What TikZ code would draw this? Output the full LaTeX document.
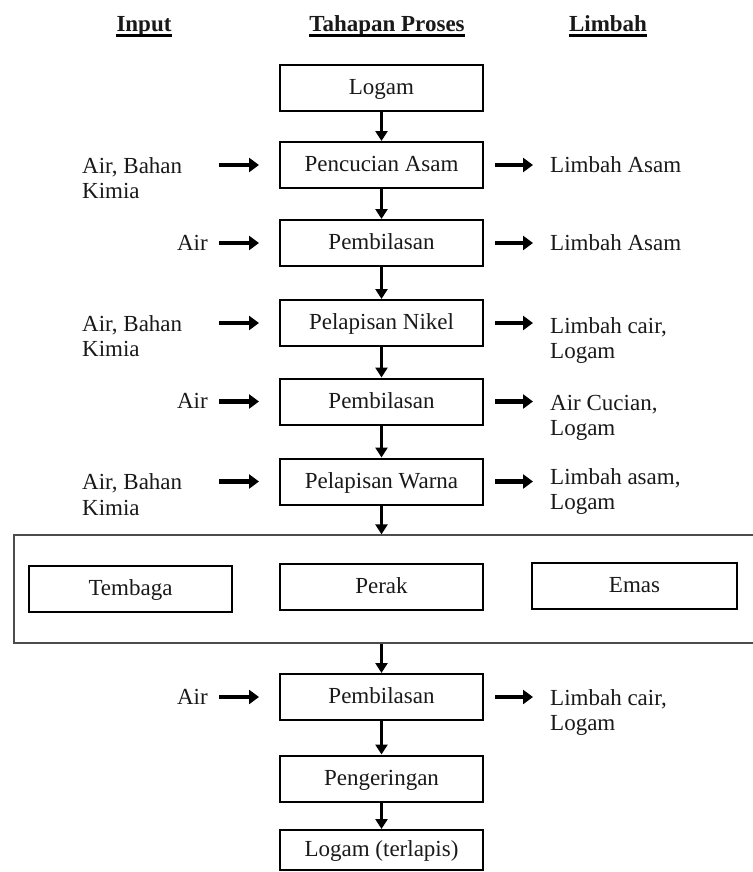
\documentclass[tikz,border=0pt]{standalone}
\usepackage{fontspec}
\setmainfont{Liberation Serif}
\usetikzlibrary{arrows.meta}
\begin{document}
\begin{tikzpicture}[x=1pt,y=-1pt,
 every node/.style={font=\fontsize{23}{25.5}\selectfont, inner sep=0pt, text=black!90},
 box/.style={draw=black, line width=2pt, minimum width=203pt, minimum height=46pt, text height=17.5pt, text depth=4.5pt},
 outerbox/.style={draw=black!70, line width=1.3pt},
 varrow/.style={line width=3pt, -{Triangle[length=10pt,width=12pt]}},
 harrow/.style={line width=4.5pt, -{Triangle[length=10pt,width=14pt]}},
 hdr/.style={font=\fontsize{23}{26}\selectfont\bfseries, anchor=base},
 lbl/.style={align=left, anchor=base west},
 lblr/.style={anchor=base east},
]
\useasboundingbox (0,0) rectangle (752,872);

% headers
\node[hdr] (hin) at (144,32) {Input};
\node[hdr] (hpr) at (387,32) {Tahapan Proses};
\node[hdr] (hlb) at (608,32) {Limbah};
\foreach \n in {hin,hpr,hlb}
  \draw[line width=3pt] ([yshift=-4pt]\n.base west) -- ([yshift=-4pt]\n.base east);

% main column
\node[box] (b1) at (381.5,88.5) {Logam};
\node[box] (b2) at (381.5,165) {Pencucian Asam};
\node[box] (b3) at (381.5,243) {Pembilasan};
\node[box] (b4) at (381.5,323) {Pelapisan Nikel};
\node[box] (b5) at (381.5,401.5) {Pembilasan};
\node[box] (b6) at (381.5,481.5) {Pelapisan Warna};
\node[outerbox, minimum width=746pt, minimum height=108pt] (grp) at (387,589) {};
\node[box] (t1) at (130.5,589) {Tembaga};
\node[box] (t2) at (381.5,587) {Perak};
\node[box, minimum width=205pt] (t3) at (634.5,585.5) {Emas};
\node[box] (b7) at (381.5,697) {Pembilasan};
\node[box] (b8) at (381.5,778.5) {Pengeringan};
\node[box, minimum height=40pt] (b9) at (381.5,850) {Logam (terlapis)};

% vertical connectors
\draw[varrow] (b1) -- (b2);
\draw[varrow] (b2) -- (b3);
\draw[varrow] (b3) -- (b4);
\draw[varrow] (b4) -- (b5);
\draw[varrow] (b5) -- (b6);
\draw[varrow] (b6) -- (b6 |- grp.north);
\draw[varrow] (b7 |- grp.south) -- (b7);
\draw[varrow] (b7) -- (b8);
\draw[varrow] (b8) -- (b9);

% side arrows
\foreach \k in {b2,b3,b4,b5,b6,b7}{
  \coordinate (in\k) at ([xshift=-60pt]\k.west);
  \coordinate (out\k) at ([xshift=49pt]\k.east);
  \draw[harrow, shorten >=20pt] (in\k) -- (\k);
  \draw[harrow, shorten <=11pt] (\k) -- (out\k);
}

% input labels (base anchor = baseline of last line)
\node[lbl]  (l2) at (82,198.5) {Air, Bahan\\Kimia};
\node[lblr] (l3) at (208,250) {Air};
\node[lbl]  (l4) at (82,356.5) {Air, Bahan\\Kimia};
\node[lblr] (l5) at (208,408.5) {Air};
\node[lbl]  (l6) at (82,515) {Air, Bahan\\Kimia};
\node[lblr] (l7) at (208,704) {Air};

% waste labels
\node[lbl] (r2) at (550,172) {Limbah Asam};
\node[lbl] (r3) at (550,250) {Limbah Asam};
\node[lbl] (r4) at (550,358.5) {Limbah cair,\\Logam};
\node[lbl] (r5) at (550,435.5) {Air Cucian,\\Logam};
\node[lbl] (r6) at (550,509.5) {Limbah asam,\\Logam};
\node[lbl] (r7) at (550,730.5) {Limbah cair,\\Logam};
\end{tikzpicture}
\end{document}
